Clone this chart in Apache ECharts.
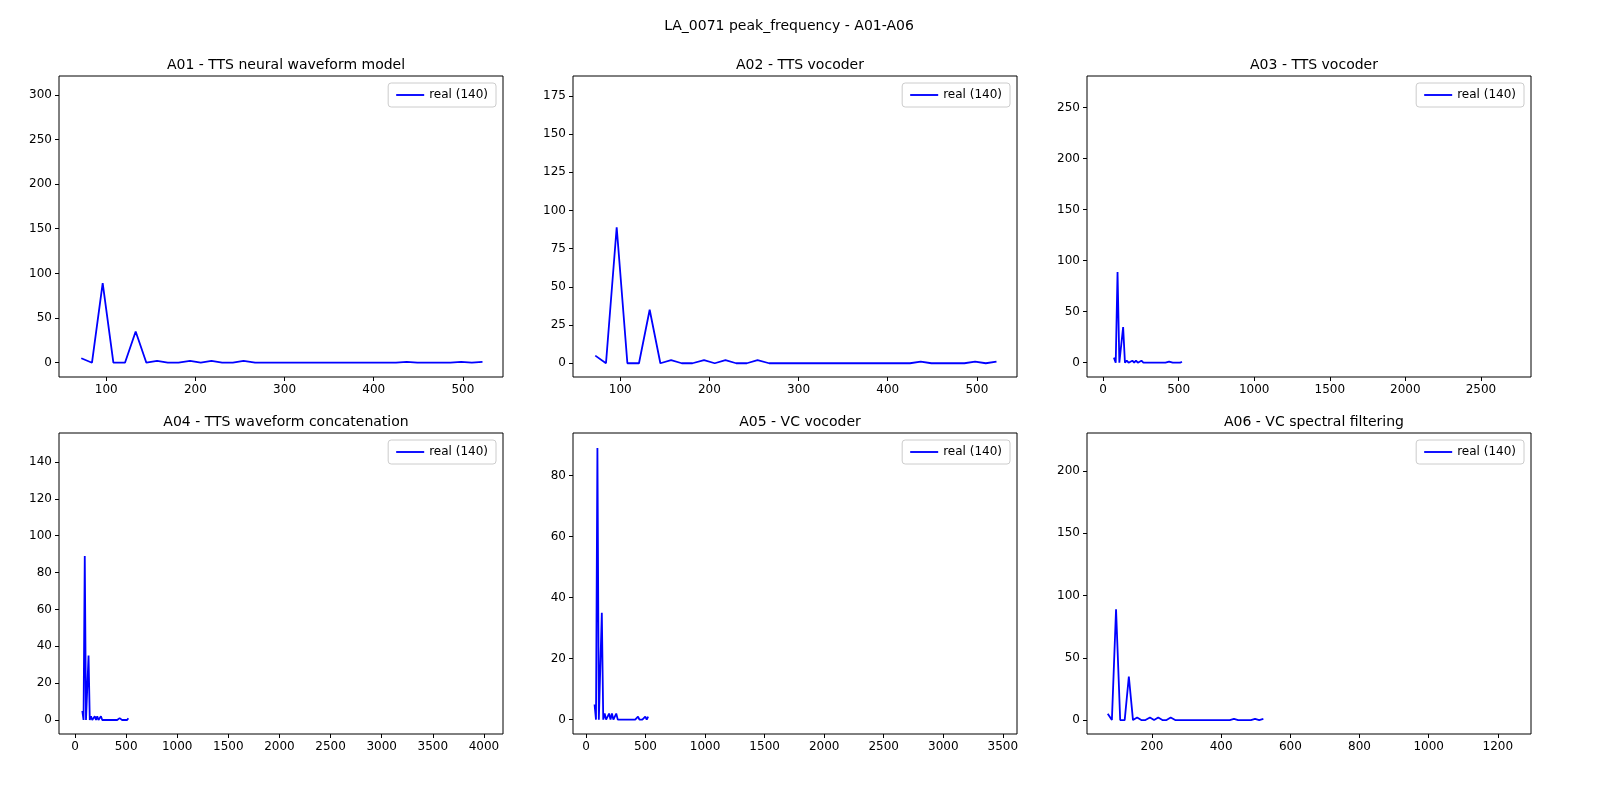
<!DOCTYPE html>
<html>
<head>
<meta charset="utf-8">
<script src="https://cdn.jsdelivr.net/npm/echarts@6/dist/echarts.min.js"></script>
<style>html,body{margin:0;padding:0;background:#fff}#main{width:1600px;height:800px}</style>
</head>
<body>
<div id="main"></div>
<script>
// peak frequency bins (Hz) and counts of the "real" series
var freqs = [72, 84, 96, 108, 121, 133, 145, 157, 169, 181, 194, 206, 218, 230, 242, 254, 267, 279, 291,
             303, 315, 327, 340, 352, 364, 376, 388, 400, 413, 425, 437, 449, 461, 473, 486, 498, 510, 522];
var realCounts = [5, 0, 89, 0, 0, 35, 0, 2, 0, 0, 2, 0, 2, 0, 0, 2, 0, 0, 0,
                  0, 0, 0, 0, 0, 0, 0, 0, 0, 0, 0, 1, 0, 0, 0, 0, 1, 0, 1];
var titles = ['A01 - TTS neural waveform model', 'A02 - TTS vocoder', 'A03 - TTS vocoder',
              'A04 - TTS waveform concatenation', 'A05 - VC vocoder', 'A06 - VC spectral filtering'];
var xTicks = [[100, 200, 300, 400, 500], [100, 200, 300, 400, 500], [0, 500, 1000, 1500, 2000, 2500],
              [0, 500, 1000, 1500, 2000, 2500, 3000, 3500, 4000], [0, 500, 1000, 1500, 2000, 2500, 3000, 3500],
              [200, 400, 600, 800, 1000, 1200]];
var yTicks = [[0, 50, 100, 150, 200, 250, 300], [0, 25, 50, 75, 100, 125, 150, 175], [0, 50, 100, 150, 200, 250],
              [0, 20, 40, 60, 80, 100, 120, 140], [0, 20, 40, 60, 80], [0, 50, 100, 150, 200]];
var xRange = [[47, 545], [47, 545], [-106, 2831], [-156, 4186], [-109, 3619], [12, 1296]];
var yRange = [[-16, 321], [-9, 188], [-14, 281], [-7.6, 155.7], [-4.7, 93.9], [-11.2, 230.5]];

var lefts = [59, 573, 1087], tops = [76, 433], W = 444, H = 301;
var font = 'DejaVu Sans';
var grids = [], xAxes = [], yAxes = [], series = [], legends = [], tts = [];
var dataPts = freqs.map(function (f, i) { return [f, realCounts[i]]; });
function plain(v) { return String(v); }
for (var i = 0; i < 6; i++) {
  var l = lefts[i % 3], t = tops[Math.floor(i / 3)];
  grids.push({left: l, top: t, width: W, height: H, show: true, borderColor: '#000', borderWidth: 1});
  var axLine = {show: false, onZero: false};
  xAxes.push({type: 'value', gridIndex: i, position: 'bottom', min: xRange[i][0], max: xRange[i][1], splitLine: {show: false},
    axisLine: axLine, axisTick: {customValues: xTicks[i], length: 4, lineStyle: {color: '#000'}},
    axisLabel: {customValues: xTicks[i], formatter: plain, color: '#000', fontFamily: font, fontSize: 12, margin: 7}});
  yAxes.push({type: 'value', gridIndex: i, position: 'left', min: yRange[i][0], max: yRange[i][1], splitLine: {show: false},
    axisLine: axLine, axisTick: {customValues: yTicks[i], length: 4, lineStyle: {color: '#000'}},
    axisLabel: {customValues: yTicks[i], formatter: plain, color: '#000', fontFamily: font, fontSize: 12, margin: 7}});
  series.push({type: 'line', name: 'real (140)', xAxisIndex: i, yAxisIndex: i, data: dataPts, showSymbol: false,
    lineStyle: {color: '#0000ff', width: 1.8}, itemStyle: {color: '#0000ff'}, animation: false});
  legends.push({data: [{name: 'real (140)', icon: 'path://M0,0 L30,0 L30,2 L0,2 Z'}], right: 1600 - l - W + 7, top: t + 7,
    itemWidth: 28, itemHeight: 2, backgroundColor: '#fff', borderColor: '#ccc', borderWidth: 1, borderRadius: 3,
    padding: [6, 8], textStyle: {fontFamily: font, fontSize: 12, color: '#000'}});
  tts.push({text: titles[i], left: l + W / 2, top: t - 23, textAlign: 'center',
    textStyle: {fontFamily: font, fontSize: 14, fontWeight: 'normal', color: '#000'}});
}
tts.push({text: 'LA_0071 peak_frequency - A01-A06', left: 784, top: 14, textAlign: 'center',
  textStyle: {fontFamily: font, fontSize: 14, fontWeight: 'normal', color: '#000'}});

var chart = echarts.init(document.getElementById('main'));
chart.setOption({animation: false, title: tts, grid: grids, xAxis: xAxes, yAxis: yAxes, legend: legends, series: series});
</script>
</body>
</html>
